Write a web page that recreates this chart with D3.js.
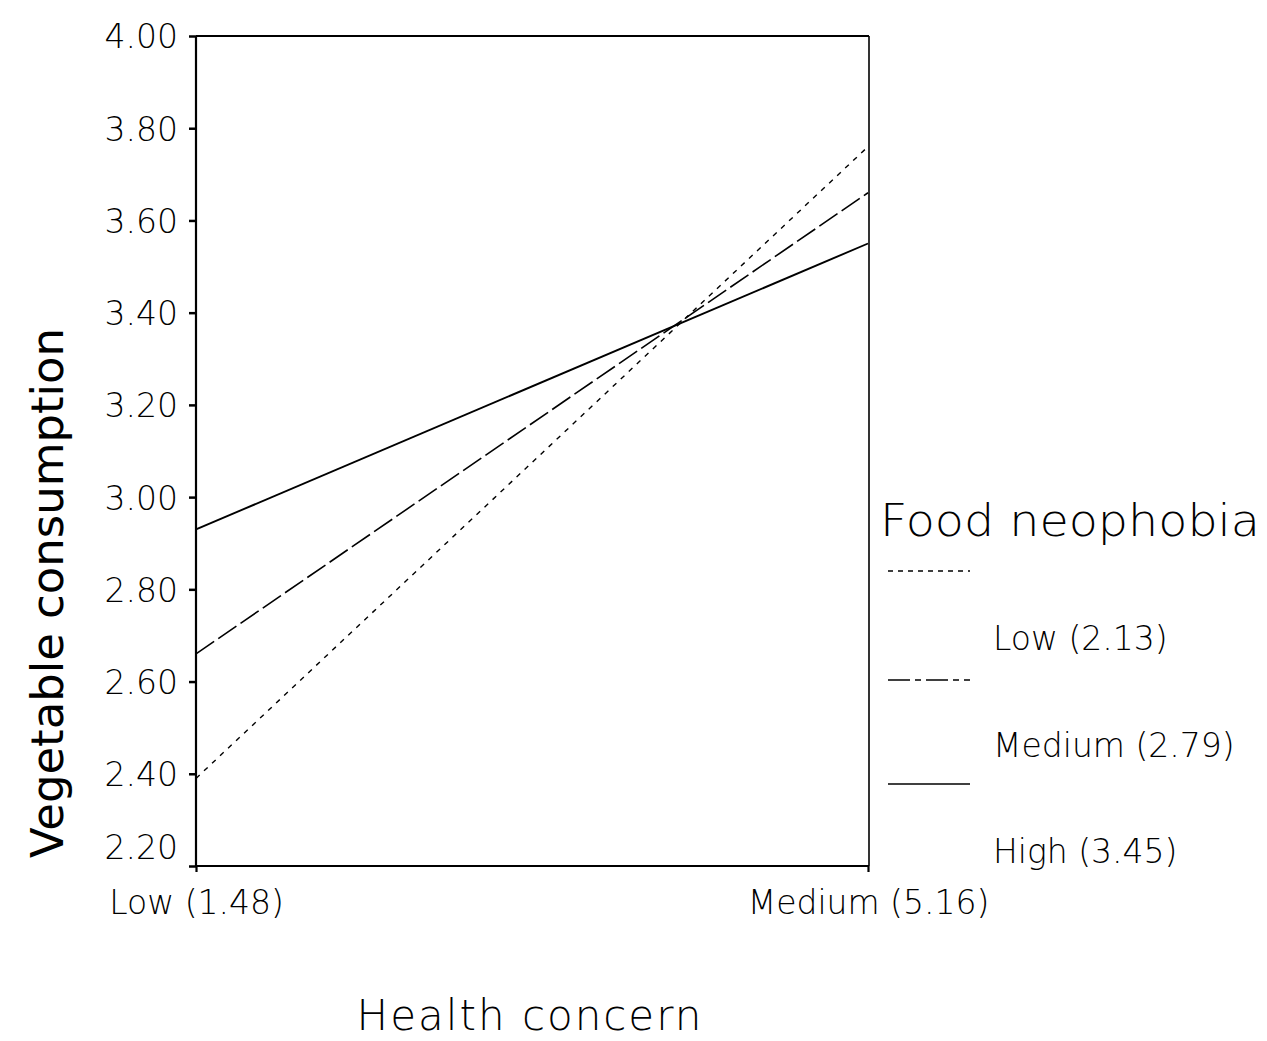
<!DOCTYPE html>
<html>
<head>
<meta charset="utf-8">
<script src="https://cdn.jsdelivr.net/npm/d3@7"></script>
<style>
  html, body { margin: 0; padding: 0; background: #fff; }
  svg { display: block; }
  text { font-family: "DejaVu Sans", "Liberation Sans", sans-serif; fill: #000; }
</style>
</head>
<body>
<svg id="chart" width="1267" height="1041"></svg>
<script>
// ---- data ----
const xCategories = ["Low (1.48)", "Medium (5.16)"];
const seriesNames = ["Low (2.13)", "Medium (2.79)", "High (3.45)"];
const lowValues = [2.39, 3.76];
const mediumValues = [2.66, 3.66];
const highValues = [2.93, 3.55];
const yTicks = [2.2, 2.4, 2.6, 2.8, 3.0, 3.2, 3.4, 3.6, 3.8, 4.0];
const xTitle = "Health concern";
const yTitle = "Vegetable consumption";
const legendTitle = "Food neophobia";

const series = [
  { name: seriesNames[0], values: lowValues, dash: "5,6", width: 1.4 },
  { name: seriesNames[1], values: mediumValues, dash: "22,5", width: 1.6 },
  { name: seriesNames[2], values: highValues, dash: null, width: 1.9 }
];

// ---- layout ----
const svg = d3.select("#chart");
const pLeft = 196, pRight = 868, pTop = 36, pBottom = 866;

const x = d3.scalePoint().domain(xCategories).range([pLeft, pRight]);
const y = d3.scaleLinear().domain([2.2, 4.0]).range([pBottom, pTop]);

// frame: top and right borders
svg.append("line").attr("x1", pLeft).attr("x2", pRight + 1).attr("y1", pTop).attr("y2", pTop)
  .attr("stroke", "#000").attr("stroke-width", 2.2);
svg.append("line").attr("x1", pRight + 1).attr("x2", pRight + 1).attr("y1", pTop).attr("y2", pBottom)
  .attr("stroke", "#000").attr("stroke-width", 1.6);

// y axis
const yAxis = svg.append("g").attr("transform", `translate(${pLeft},0)`)
  .call(d3.axisLeft(y).tickValues(yTicks).tickFormat(d3.format(".2f")).tickSize(7).tickPadding(11));
yAxis.select(".domain").attr("stroke-width", 2.2).attr("d", `M0,${pTop}V${pBottom}`);
yAxis.selectAll(".tick line").attr("stroke-width", 2.5);
yAxis.selectAll(".tick text").attr("font-size", 33).attr("font-weight", 200)
  .attr("font-family", "DejaVu Sans")
  .attr("dy", d => d === 2.2 ? "-0.24em" : "0.36em");

// x axis
const xAxis = svg.append("g").attr("transform", `translate(0,${pBottom})`)
  .call(d3.axisBottom(x).tickSize(6).tickPadding(30));
xAxis.select(".domain").attr("stroke-width", 2.2).attr("d", `M${pLeft},0H${pRight + 1}`);
xAxis.selectAll(".tick line").attr("stroke-width", 2.2);
xAxis.selectAll(".tick text").attr("font-size", 33).attr("font-weight", 200)
  .attr("font-family", "DejaVu Sans").attr("dy", "0.36em");

// lines
const line = d3.line().x((d, i) => x(xCategories[i])).y(d => y(d));
svg.append("g").selectAll("path").data(series).join("path")
  .attr("d", d => line(d.values))
  .attr("fill", "none")
  .attr("stroke", "#000")
  .attr("stroke-width", d => d.width)
  .attr("stroke-dasharray", d => d.dash);

// axis titles
svg.append("text").attr("x", 530).attr("y", 1030).attr("text-anchor", "middle")
  .attr("font-size", 42).attr("font-weight", 300).attr("letter-spacing", 2).text(xTitle);
svg.append("text").attr("transform", "translate(63,593) rotate(-90)").attr("text-anchor", "middle")
  .attr("font-size", 45).attr("font-weight", 400).attr("textLength", 530)
  .attr("lengthAdjust", "spacingAndGlyphs").text(yTitle);

// legend
svg.append("text").attr("x", 880).attr("y", 536).attr("font-size", 45).attr("font-weight", 300)
  .attr("textLength", 380).attr("lengthAdjust", "spacingAndGlyphs").text(legendTitle);
const legendLineY = [571, 680, 784];
const legendLabelY = [638, 745, 851];
const lg = svg.append("g").selectAll("g").data(series).join("g");
lg.append("line").attr("x1", 888).attr("x2", 970)
  .attr("y1", (d, i) => legendLineY[i]).attr("y2", (d, i) => legendLineY[i])
  .attr("stroke", "#000").attr("stroke-width", 1.3)
  .attr("stroke-dasharray", (d, i) => i === 0 ? "5,5" : (i === 1 ? "22,5,6,5" : null));
lg.append("text").attr("x", 993).attr("y", (d, i) => legendLabelY[i]).attr("dy", "0.36em")
  .attr("font-size", 33).attr("font-weight", 200).text(d => d.name);
</script>
</body>
</html>
